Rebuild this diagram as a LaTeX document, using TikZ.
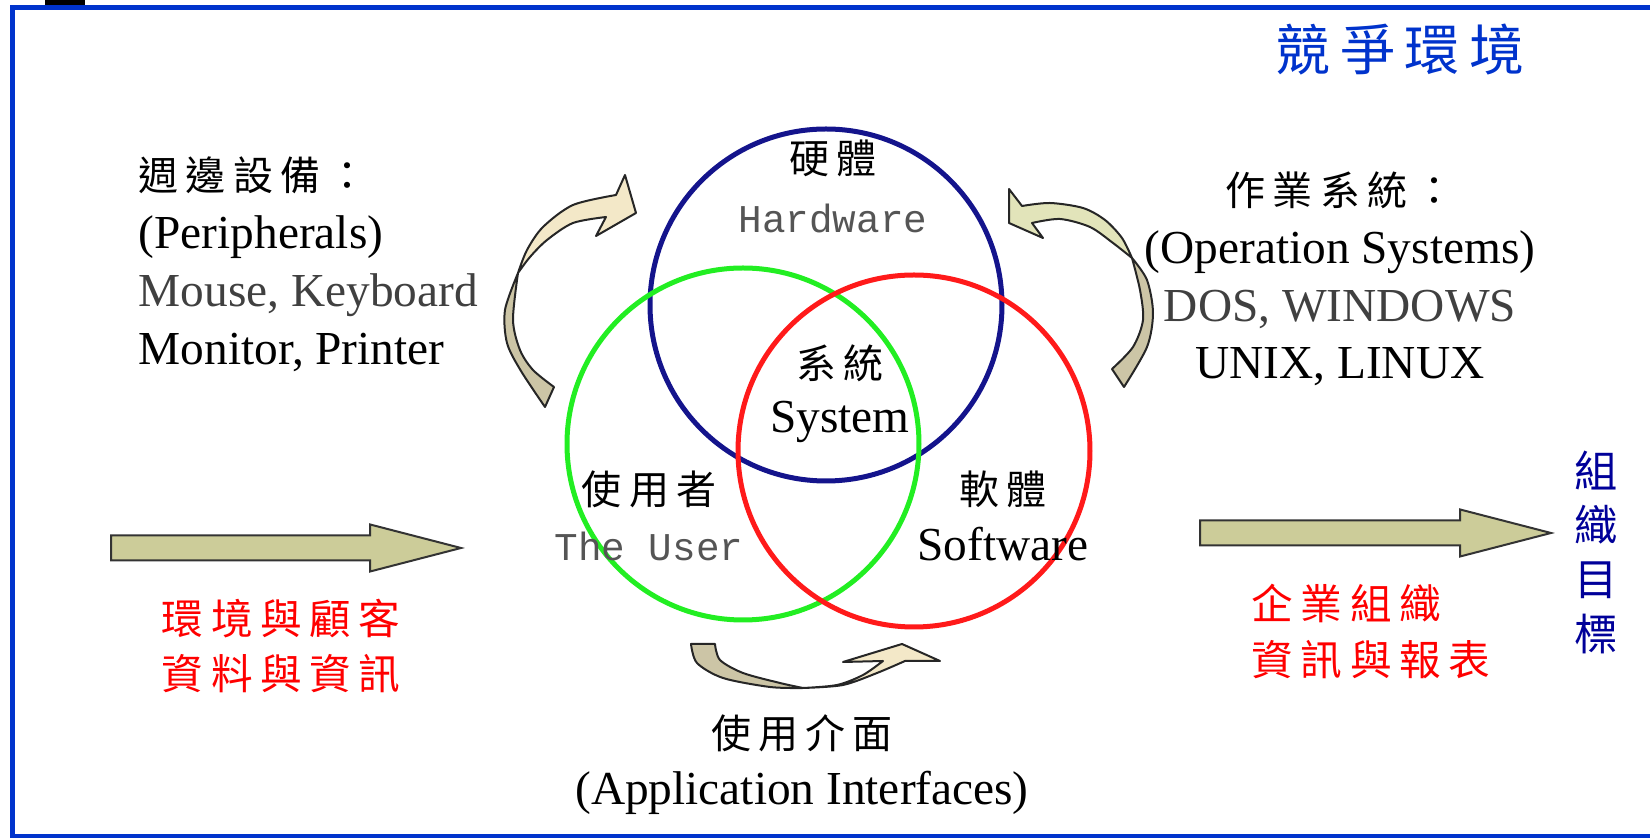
\documentclass[tikz,border=0pt]{standalone}
\usepackage{fontspec}
\setmainfont{Liberation Serif}
\setmonofont{Liberation Mono}
\newfontfamily\cjk[LetterSpace=18]{Noto Sans CJK TC}
\newfontfamily\cjkplain{Noto Sans CJK TC}
\usepackage{xcolor}
\usetikzlibrary{shapes.arrows, positioning}
\definecolor{frameblue}{RGB}{0, 51, 204}
\definecolor{hwblue}{RGB}{20, 20, 140}
\definecolor{usergreen}{RGB}{34, 238, 34}
\definecolor{swred}{RGB}{255, 26, 26}
\definecolor{arrowfill}{RGB}{204, 204, 153}
\definecolor{arcdark}{RGB}{204, 197, 166}
\definecolor{arclight}{RGB}{243, 232, 200}
\definecolor{arcgreen}{RGB}{226, 228, 186}
\definecolor{goalblue}{RGB}{0, 0, 153}
\definecolor{softgray}{RGB}{64, 64, 64}
\definecolor{monogray}{RGB}{85, 85, 85}

\begin{document}
\begin{tikzpicture}[
    x=0.3pt, y=-0.3pt,
    ring/.style={circle, line width=1.5pt, minimum size=105.6pt, inner sep=0pt},
    bigarrow/.style={single arrow, draw=black!80, line width=0.6pt, fill=arrowfill,
                     inner sep=0pt, inner ysep=3.45pt, single arrow head extend=3.3pt,
                     single arrow tip angle=29, anchor=tail},
    arcpart/.style={draw=black!85, line width=0.6pt, line join=round}
]
    \useasboundingbox (0,0) rectangle (1650,838);

    % frame
    \fill[frameblue] (10,5) rectangle (1650,10);
    \fill[frameblue] (10,5) rectangle (15,838);
    \fill[frameblue] (10,834) rectangle (1650,838);
    \fill[black] (45,0) rectangle (85,5);

    % the three rings
    \node[ring, draw=hwblue] (hw) at (826,305) {};
    \node[ring, draw=usergreen] (user) at (743,444) {};
    \node[ring, draw=swred] (sw) at (914,451) {};

    % ring labels
    \node[align=center, font=\fontsize{12}{17.7}\selectfont] (hwlabel) at (833,186)
        {{\cjk 硬體}\\{\ttfamily\fontsize{11.8}{17.7}\selectfont\color{monogray}Hardware}};
    \node[align=center, font=\fontsize{12}{16.3}\selectfont] (syslabel) at (840,394)
        {{\cjk 系統}\\{\fontsize{14.2}{16.3}\selectfont System}};
    \node[align=center, font=\fontsize{12}{16.6}\selectfont] (userlabel) at (649,516)
        {{\cjk 使用者}\\{\ttfamily\fontsize{11.8}{16.6}\selectfont\color{monogray}The User}};
    \node[align=center, font=\fontsize{12}{16.6}\selectfont] (swlabel) at (1003,516)
        {{\cjk 軟體}\\{\fontsize{14.2}{16.6}\selectfont Software}};

    % title
    \node[font=\cjk\fontsize{16.5}{20}\selectfont, text=frameblue] (title) at (1400,50) {競爭環境};

    % peripherals and operating systems
    \node[align=left, anchor=west, font=\fontsize{14.2}{17.4}\selectfont] (periph) at (127,264)
        {{\cjk\fontsize{12}{17.4}\selectfont 週邊設備：}\\(Peripherals)\\{\color{softgray}Mouse, Keyboard}\\Monitor, Printer};
    \node[align=center, font=\fontsize{14.2}{17.3}\selectfont] (opsys) at (1340,279)
        {{\cjk\fontsize{12}{17.3}\selectfont 作業系統：}\\(Operation Systems)\\{\color{softgray}DOS, WINDOWS}\\UNIX, LINUX};

    % interfaces
    \node[align=center, font=\fontsize{14.2}{16.8}\selectfont] (iface) at (802,765)
        {{\cjk\fontsize{12}{16.8}\selectfont 使用介面}\\(Application Interfaces)};

    % inputs and outputs
    \node[bigarrow, minimum height=105pt] (inarrow) at (110,548) {};
    \node[bigarrow, minimum height=105.3pt] (outarrow) at (1199,533) {};
    \node[align=center, text=red, font=\cjk\fontsize{12.5}{16.6}\selectfont] (envdata) at (281,646)
        {環境與顧客\\資料與資訊};
    \node[align=left, anchor=west, text=red, font=\cjk\fontsize{12.5}{16.8}\selectfont] (orginfo) at (1240,632)
        {企業組織\\資訊與報表};
    \node[align=center, text=goalblue, font=\cjkplain\fontsize{13}{16.3}\selectfont] (goal) at (1596,552)
        {組\\織\\目\\標};

    % curved arrow: peripherals to hardware
    \filldraw[arcpart, fill=arcdark] (518,273) -- plot[smooth] coordinates
        {(518,273) (505,310) (507,343) (521,371) (545,407)} -- (554,387)
        -- plot[smooth] coordinates {(554,387) (533,370) (520,350) (513,320) (518,273)} -- cycle;
    \filldraw[arcpart, fill=arclight] (518,273) -- plot[smooth] coordinates
        {(518,273) (527,250) (543,227) (573,205) (616,195)} -- (625,175) -- (636,213) -- (596,236) -- (606,217)
        -- plot[smooth] coordinates {(606,217) (573,223) (547,240) (530,257) (518,273)} -- cycle;

    % curved arrow: software to operating systems
    \filldraw[arcpart, fill=arcdark] (1132,258) -- plot[smooth] coordinates
        {(1132,258) (1147,280) (1153,313) (1147,347) (1124,387)} -- (1112,369)
        -- plot[smooth] coordinates {(1112,369) (1133,347) (1143,320) (1140,290) (1132,258)} -- cycle;
    \filldraw[arcpart, fill=arcgreen] (1132,258) -- plot[smooth] coordinates
        {(1132,258) (1122,238) (1105,220) (1083,208) (1050,203) (1022,206)} -- (1009,189) -- (1009,223) -- (1043,238) -- (1032,223)
        -- plot[smooth] coordinates {(1032,223) (1060,219) (1090,227) (1113,243) (1132,258)} -- cycle;

    % curved arrow: user to software
    \filldraw[arcpart, fill=arcdark] (691,644) -- plot[smooth] coordinates
        {(691,644) (697,663) (723,678) (770,687) (803,688)}
        -- plot[smooth] coordinates {(803,688) (780,683) (743,673) (720,660) (715,644)} -- cycle;
    \filldraw[arcpart, fill=arclight] (803,688) -- plot[smooth] coordinates
        {(803,688) (843,685) (877,673) (905,661)} -- (940,661) -- (902,644) -- (843,662) -- (883,661)
        -- plot[smooth] coordinates {(883,661) (863,675) (837,685) (803,688)} -- cycle;
\end{tikzpicture}
\end{document}
